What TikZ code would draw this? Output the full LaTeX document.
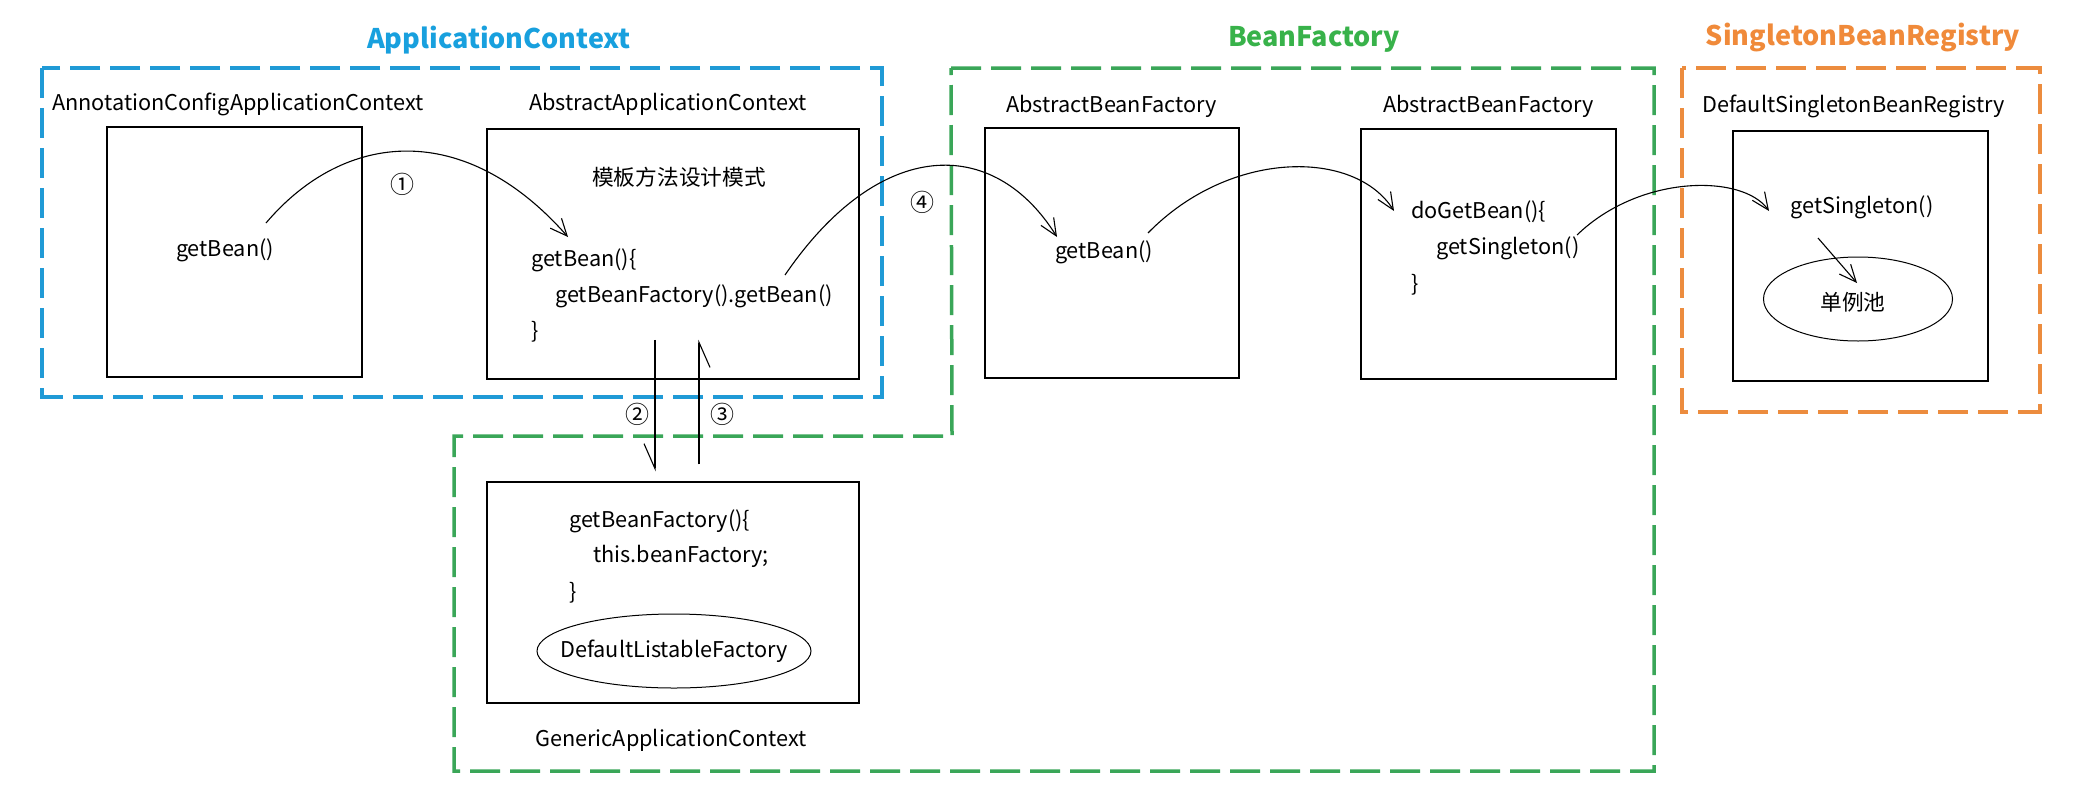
\documentclass[tikz,border=0pt]{standalone}
\usepackage{fontspec}
\setmainfont{Noto Sans CJK SC}
\usetikzlibrary{arrows.meta,shapes.geometric}
\definecolor{cblue}{RGB}{32,154,214}
\definecolor{cgreen}{RGB}{58,166,88}
\definecolor{corange}{RGB}{236,140,62}
\definecolor{tblue}{RGB}{24,160,222}
\definecolor{tgreen}{RGB}{56,178,74}
\definecolor{torange}{RGB}{240,138,58}
\tikzset{
  box/.style={draw=black, line width=1.5pt, inner sep=0pt},
  oval/.style={draw=black, ellipse, line width=1pt, inner sep=0pt},
  grp/.style={line width=3.5pt, dash pattern=on 30pt off 10pt},
  txt/.style={font=\fontsize{21.7}{26}\selectfont, inner sep=0pt},
  ttl/.style={font=\fontsize{27}{32}\selectfont\bfseries, inner sep=0pt},
  num/.style={font=\fontsize{24}{28}\selectfont, inner sep=0pt},
  arr/.style={line width=1.1pt, -{Straight Barb[length=17pt,width=15pt]}},
  harr/.style={line width=1.1pt, -{Straight Barb[right,length=25pt,width=22pt]}}
}
\begin{document}
\begin{tikzpicture}[x=1pt,y=-1pt]
\useasboundingbox[fill=white] (0,0) rectangle (2074,806);

% group frames
\draw[grp, cblue] (42,68) rectangle (882,397);
\draw[grp, cgreen] (951,68) -- (1654,68) -- (1654,771) -- (454,771) -- (454,436) -- (952,436) -- cycle;
\draw[grp, corange] (1682,68) rectangle (2040,412);

% titles
\node[ttl, text=tblue] (tAC) at (499,40) {ApplicationContext};
\node[ttl, text=tgreen] (tBF) at (1314,39) {BeanFactory};
\node[ttl, text=torange] (tSR) at (1863,38) {SingletonBeanRegistry};

% class labels
\node[txt, anchor=west] (lAnn) at (52,104) {AnnotationConfigApplicationContext};
\node[txt, anchor=west] (lAbsAC) at (529,104) {AbstractApplicationContext};
\node[txt, anchor=west] (lABF1) at (1006,106) {AbstractBeanFactory};
\node[txt, anchor=west] (lABF2) at (1383,106) {AbstractBeanFactory};
\node[txt, anchor=west] (lDSBR) at (1702,106) {DefaultSingletonBeanRegistry};
\node[txt, anchor=west] (lGAC) at (535,740) {GenericApplicationContext};

% boxes
\node[box, minimum width=255pt, minimum height=250pt] (b1) at (234.5,252) {};
\node[box, minimum width=372pt, minimum height=250pt] (b2) at (673,254) {};
\node[box, minimum width=372pt, minimum height=221pt] (bG) at (673,592.5) {};
\node[box, minimum width=254pt, minimum height=250pt] (bF1) at (1112,253) {};
\node[box, minimum width=255pt, minimum height=250pt] (bF2) at (1488.5,254) {};
\node[box, minimum width=255pt, minimum height=250pt] (bR) at (1860.5,256) {};

% box contents
\node[txt] (gbA) at (225,250) {getBean()};
\node[txt] (tpl) at (679,177) {模板方法设计模式};
\node[txt, anchor=west] (gb2) at (531,260) {getBean()\{};
\node[txt, anchor=west] (gbf) at (555,296) {getBeanFactory().getBean()};
\node[txt, anchor=west] (cb2) at (531,332) {\}};

\node[txt, anchor=west] (gfG) at (569,521) {getBeanFactory()\{};
\node[txt, anchor=west] (thG) at (593,556) {this.beanFactory;};
\node[txt, anchor=west] (cbG) at (569,593) {\}};
\node[oval, minimum width=274pt, minimum height=74pt] (dlf) at (674,651) {};
\node[txt] (dlft) at (674,651) {DefaultListableFactory};

\node[txt] (gbB) at (1104,252) {getBean()};
\node[txt, anchor=west] (dgb) at (1411,212) {doGetBean()\{};
\node[txt, anchor=west] (gs1) at (1436,248) {getSingleton()};
\node[txt, anchor=west] (cbF) at (1411,285) {\}};

\node[txt] (gs2) at (1862,207) {getSingleton()};
\node[oval, minimum width=189pt, minimum height=84pt] (pool) at (1858,299) {};
\node[txt] (poolt) at (1853,302) {单例池};

% step numbers
\node[num] (n1) at (402,184) {①};
\node[num] (n2) at (637,414) {②};
\node[num] (n3) at (722,414) {③};
\node[num] (n4) at (922,202) {④};

% connectors
\draw[arr] ([shift={(41,-27)}]gbA.center) .. controls (345,130) and (465,120) .. ([shift={(37,-23)}]gb2.west);
\draw[harr] ([shift={(-18,-40)}]b2.south) -- ([shift={(-18,-10)}]bG.north);
\draw[harr] ([shift={(26,-17)}]bG.north) -- ([shift={(26,-40)}]b2.south);
\draw[arr] ([shift={(230,-21)}]gbf.west) .. controls (880,136) and (994,136) .. ([shift={(-47,-15)}]gbB.center);
\draw[arr] ([shift={(44,-19)}]gbB.center) .. controls (1230,149) and (1355,149) .. ([shift={(-17,-1)}]dgb.west);
\draw[arr] ([shift={(141,-13)}]gs1.west) .. controls (1640,174) and (1743,174) .. ([shift={(-93,4)}]gs2.center);
\draw[arr] ([shift={(-44,31)}]gs2.center) -- ([shift={(-1,-16)}]pool.center);
\end{tikzpicture}
\end{document}
